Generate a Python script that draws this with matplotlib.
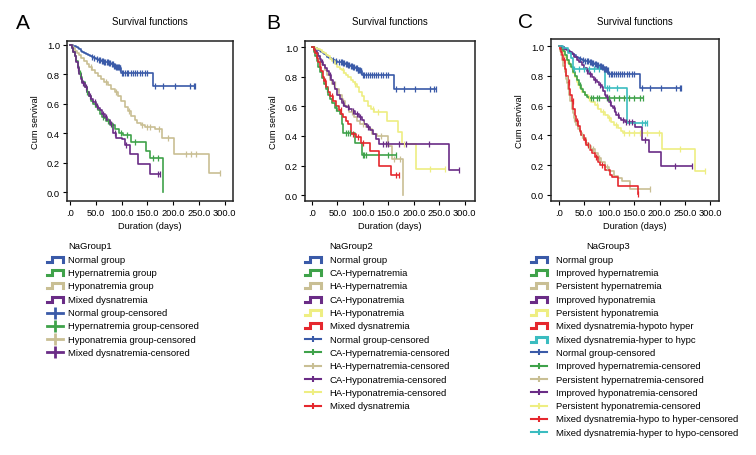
import numpy as np
import matplotlib
matplotlib.use('Agg')
import matplotlib.pyplot as plt
from matplotlib.lines import Line2D

plt.rcParams['font.family'] = ['Liberation Sans', 'DejaVu Sans']

# ---- colours (SPSS-like palette) ----
BLUE = '#3a5aa8'
GREEN = '#3fa24a'
TAN = '#c9bf94'
PURPLE = '#6a2c86'
YELLOW = '#eeee82'
RED = '#e5282e'
CYAN = '#3bbcc0'

x_ticks = [0, 50, 100, 150, 200, 250, 300]
x_tick_labels = ['.0', '50.0', '100.0', '150.0', '200.0', '250.0', '300.0']
y_ticks = [0.0, 0.2, 0.4, 0.6, 0.8, 1.0]
y_tick_labels = ['0.0', '0.2', '0.4', '0.6', '0.8', '1.0']

# ---- normal group (same in all three panels) ----
normal_t = [3, 6, 9, 12, 15, 18, 21, 24, 27, 30, 34, 38, 42, 46, 50, 55, 60, 65, 70, 75,
            80, 85, 90, 95, 98, 160]
normal_s = [0.997, 0.993, 0.988, 0.982, 0.975, 0.968, 0.960, 0.953, 0.946, 0.938, 0.930,
            0.923, 0.916, 0.910, 0.904, 0.898, 0.892, 0.886, 0.880, 0.874, 0.866, 0.858,
            0.850, 0.842, 0.81, 0.72]
normal_c = [42, 47, 52, 56, 58, 61, 63, 66, 68, 71, 73, 76, 78, 81, 83, 86, 88, 90, 91, 93,
            94, 96, 97, 100, 103, 106, 110, 113, 118, 122, 126, 130, 135, 140, 145, 150,
            165, 181, 203, 232, 240, 243]

# ---- panel A ----
a_hyper_t = [3, 6, 9, 12, 15, 18, 21, 24, 28, 32, 36, 41, 45, 50, 54, 58, 61, 66, 70, 78,
             87, 95, 103, 119, 148, 155, 180]
a_hyper_s = [0.98, 0.95, 0.92, 0.89, 0.85, 0.81, 0.78, 0.75, 0.71, 0.68, 0.65, 0.62, 0.60,
             0.575, 0.555, 0.53, 0.51, 0.50, 0.48, 0.455, 0.43, 0.40, 0.39, 0.34, 0.28,
             0.23, 0.0]
a_hyper_c = [20, 33, 48, 64, 74, 82, 99, 110, 125, 160, 170]

a_hypo_t = [3, 6, 10, 14, 18, 22, 27, 32, 37, 43, 49, 54, 60, 66, 73, 80, 87, 93, 99, 106,
            112, 119, 125, 129, 137, 145, 165, 178, 201, 269]
a_hypo_s = [0.99, 0.975, 0.96, 0.945, 0.93, 0.91, 0.89, 0.87, 0.85, 0.83, 0.81, 0.785,
            0.765, 0.745, 0.725, 0.70, 0.68, 0.655, 0.62, 0.58, 0.55, 0.515, 0.49, 0.47,
            0.455, 0.44, 0.43, 0.365, 0.26, 0.13]
a_hypo_c = [40, 70, 90, 115, 140, 150, 155, 172, 190, 225, 235, 245, 290]

a_mixed_t = [3, 6, 9, 12, 15, 18, 21, 24, 28, 32, 36, 41, 45, 50, 54, 58, 62, 67, 72, 77,
             83, 90, 100, 106, 116, 132, 155]
a_mixed_s = [0.98, 0.95, 0.92, 0.88, 0.84, 0.80, 0.77, 0.74, 0.71, 0.68, 0.655, 0.63,
             0.61, 0.585, 0.57, 0.555, 0.53, 0.51, 0.49, 0.465, 0.40, 0.365, 0.36, 0.32,
             0.26, 0.195, 0.126]
a_mixed_c = [16, 26, 30, 38, 48, 52, 64, 70, 80, 88, 108, 170, 175]

# ---- panel B ----
b_ca_hyper_t = [3, 6, 9, 12, 16, 20, 24, 28, 32, 36, 40, 45, 50, 55, 58, 61, 84, 98]
b_ca_hyper_s = [0.97, 0.94, 0.91, 0.87, 0.83, 0.79, 0.75, 0.72, 0.68, 0.65, 0.62, 0.59,
                0.57, 0.55, 0.483, 0.42, 0.35, 0.27]
b_ca_hyper_c = [30, 48, 66, 70, 75, 100, 103, 106, 150, 164]

b_ha_hyper_t = [4, 8, 12, 16, 20, 25, 30, 35, 40, 46, 52, 58, 64, 72, 82, 88, 95, 105, 112,
                118, 128, 150, 157, 179]
b_ha_hyper_s = [0.985, 0.965, 0.94, 0.91, 0.88, 0.85, 0.81, 0.78, 0.75, 0.715, 0.68, 0.64,
                0.60, 0.565, 0.53, 0.50, 0.48, 0.46, 0.45, 0.415, 0.40, 0.33, 0.244, 0.0]
b_ha_hyper_c = [45, 60, 78, 100, 135, 160, 172]

b_ca_hypo_t = [3, 6, 9, 12, 15, 18, 22, 26, 30, 34, 38, 42, 46, 50, 54, 58, 62, 66, 72, 78,
               85, 93, 98, 103, 108, 113, 119, 126, 132, 268]
b_ca_hypo_s = [0.99, 0.975, 0.96, 0.94, 0.92, 0.90, 0.88, 0.86, 0.84, 0.81, 0.78, 0.75,
               0.72, 0.68, 0.65, 0.625, 0.605, 0.595, 0.585, 0.57, 0.55, 0.528, 0.505,
               0.483, 0.46, 0.44, 0.415, 0.38, 0.345, 0.17]
b_ca_hypo_c = [20, 36, 44, 60, 70, 80, 88, 95, 110, 140, 145, 150, 170, 185, 230, 289]

b_ha_hypo_t = [5, 10, 15, 19, 24, 28, 32, 36, 40, 45, 50, 55, 58, 63, 67, 71, 76, 80, 84,
               89, 93, 98, 103, 110, 116, 122, 148, 168, 177, 204]
b_ha_hypo_s = [0.995, 0.99, 0.98, 0.97, 0.96, 0.95, 0.94, 0.92, 0.905, 0.89, 0.87, 0.855,
               0.845, 0.825, 0.81, 0.80, 0.78, 0.765, 0.754, 0.73, 0.70, 0.67, 0.64, 0.60,
               0.585, 0.56, 0.50, 0.43, 0.345, 0.176]
b_ha_hypo_c = [60, 85, 120, 130, 180, 232, 261]

b_mixed_t = [3, 6, 9, 12, 15, 18, 21, 24, 28, 32, 36, 42, 47, 52, 57, 61, 66, 71, 77, 87,
             97, 113, 132, 155]
b_mixed_s = [0.98, 0.96, 0.93, 0.90, 0.87, 0.84, 0.80, 0.77, 0.73, 0.70, 0.67, 0.64, 0.60,
             0.573, 0.55, 0.528, 0.50, 0.483, 0.415, 0.393, 0.35, 0.30, 0.20, 0.133]
b_mixed_c = [26, 40, 56, 80, 90, 100, 165, 171]

# ---- panel C ----
c_imp_hyper_t = [4, 8, 12, 16, 20, 24, 28, 32, 36, 40, 44, 48, 52, 56, 60]
c_imp_hyper_s = [0.985, 0.965, 0.94, 0.91, 0.88, 0.86, 0.83, 0.80, 0.77, 0.74, 0.71, 0.69,
                 0.675, 0.66, 0.65]
c_imp_hyper_c = [42, 64, 68, 75, 80, 95, 100, 110, 120, 130, 140, 150, 160, 166]

c_per_hyper_t = [2, 4, 6, 8, 11, 14, 16, 18, 20, 22, 25, 27, 29, 31, 34, 38, 41, 44, 48, 53,
                 58, 64, 71, 77, 84, 92, 100, 110, 118, 125, 141]
c_per_hyper_s = [0.97, 0.94, 0.91, 0.87, 0.83, 0.78, 0.75, 0.71, 0.67, 0.63, 0.58, 0.55,
                 0.52, 0.49, 0.47, 0.44, 0.42, 0.40, 0.38, 0.35, 0.33, 0.31, 0.28, 0.245,
                 0.22, 0.19, 0.16, 0.128, 0.11, 0.094, 0.038]
c_per_hyper_c = [15, 30, 45, 60, 67, 80, 95, 181]

c_imp_hypo_t = [5, 10, 15, 20, 25, 30, 35, 40, 45, 50, 55, 60, 65, 70, 75, 80, 85, 88, 91,
                94, 97, 100, 104, 107, 111, 114, 119, 124, 131, 151, 164, 179, 203]
c_imp_hypo_s = [0.995, 0.985, 0.975, 0.96, 0.945, 0.93, 0.91, 0.895, 0.875, 0.855, 0.835,
                0.81, 0.79, 0.775, 0.76, 0.74, 0.725, 0.70, 0.675, 0.66, 0.64, 0.627, 0.60,
                0.582, 0.56, 0.537, 0.52, 0.503, 0.49, 0.454, 0.37, 0.29, 0.195]
c_imp_hypo_c = [55, 62, 72, 82, 95, 102, 109, 118, 127, 133, 140, 145, 170, 230, 265]

c_per_hypo_t = [3, 6, 9, 12, 15, 18, 21, 25, 28, 31, 35, 38, 42, 46, 51, 57, 64, 71, 77, 84,
                91, 97, 104, 110, 117, 124, 127, 204, 270]
c_per_hypo_s = [0.985, 0.97, 0.95, 0.93, 0.91, 0.89, 0.87, 0.85, 0.82, 0.79, 0.76, 0.74,
                0.72, 0.694, 0.67, 0.65, 0.625, 0.604, 0.58, 0.56, 0.54, 0.515, 0.49, 0.47,
                0.45, 0.43, 0.416, 0.31, 0.16]
c_per_hypo_c = [60, 75, 88, 100, 113, 130, 140, 150, 160, 175, 198, 240, 291]

c_hypo_hyper_t = [2, 4, 6, 8, 11, 14, 17, 20, 22, 25, 28, 31, 34, 38, 41, 44, 49, 54, 61, 66,
                  71, 77, 81, 92, 101, 105, 117, 156]
c_hypo_hyper_s = [0.98, 0.96, 0.94, 0.91, 0.85, 0.80, 0.76, 0.71, 0.67, 0.63, 0.58, 0.53,
                  0.50, 0.46, 0.43, 0.40, 0.37, 0.335, 0.30, 0.28, 0.256, 0.222, 0.2, 0.166,
                  0.133, 0.12, 0.06, 0.005]
c_hypo_hyper_c = [10, 19, 27, 36, 52, 58, 74, 85, 156]

c_hyper_hypo_t = [8, 18, 24, 28, 91, 135]
c_hyper_hypo_s = [0.986, 0.953, 0.92, 0.85, 0.72, 0.483]
c_hyper_hypo_c = [30, 40, 50, 60, 70, 80, 95, 100, 115, 165, 170, 175]

# ---- legend labels ----
a_labels = ['Normal group', 'Hypernatremia group', 'Hyponatremia group', 'Mixed dysnatremia']
a_cens_labels = ['Normal group-censored', 'Hypernatremia group-censored',
                 'Hyponatremia group-censored', 'Mixed dysnatremia-censored']
b_labels = ['Normal group', 'CA-Hypernatremia', 'HA-Hypernatremia', 'CA-Hyponatremia',
            'HA-Hyponatremia', 'Mixed dysnatremia']
b_cens_labels = ['Normal group-censored', 'CA-Hypernatremia-censored',
                 'HA-Hypernatremia-censored', 'CA-Hyponatremia-censored',
                 'HA-Hyponatremia-censored', 'Mixed dysnatremia']
c_labels = ['Normal group', 'Improved hypernatremia', 'Persistent hypernatremia',
            'Improved hyponatremia', 'Persistent hyponatremia',
            'Mixed dysnatremia-hypoto hyper', 'Mixed dysnatremia-hyper to hypc']
c_cens_labels = ['Normal group-censored', 'Improved hypernatremia-censored',
                 'Persistent hypernatremia-censored', 'Improved hyponatremia-censored',
                 'Persistent hyponatremia-censored', 'Mixed dysnatremia-hypo to hyper-censored',
                 'Mixed dysnatremia-hyper to hypo-censored']

W, H = 756.0, 456.0
LEG_FS = 6.8
AX_FS = 6.3


def draw_km(ax, t, s, cens, color, mk=4.5):
    t = np.asarray(t, float)
    s = np.asarray(s, float)
    end = max(max(cens), t[-1])
    xs = np.concatenate([[0.0], t, [end]])
    ys = np.concatenate([[1.0], s, [s[-1]]])
    ax.step(xs, ys, where='post', color=color, lw=1.2, zorder=2)
    cens = np.asarray(cens, float)
    idx = np.searchsorted(xs, cens, side='right') - 1
    ax.plot(cens, ys[idx], ls='none', marker='|', ms=mk, mew=0.9, color=color, zorder=3)


def setup_axes(ax, xlim, ylim):
    ax.set_xlim(*xlim)
    ax.set_ylim(*ylim)
    ax.set_xticks(x_ticks)
    ax.set_xticklabels(x_tick_labels)
    ax.set_yticks(y_ticks)
    ax.set_yticklabels(y_tick_labels)
    ax.tick_params(direction='out', length=3, width=0.8, labelsize=AX_FS + 0.4, pad=2)
    for sp in ax.spines.values():
        sp.set_linewidth(1.1)
        sp.set_color('#222222')
    ax.set_xlabel('Duration (days)', fontsize=AX_FS + 0.4, labelpad=3)
    ax.set_ylabel('Cum servival', fontsize=AX_FS + 0.4, labelpad=5)


def draw_legend(fig, x_icon, x_text, y_title, x_title, title, labels, cens_labels, colors,
                dy=13.3, big_cross=False):
    fig.text(x_title / W, 1 - y_title / H, title, fontsize=LEG_FS, va='center', ha='left')
    y = y_title + dy
    iw = 16.0
    for lab, col in zip(labels, colors):
        xs = np.array([x_icon, x_icon + 5, x_icon + 5, x_icon + iw, x_icon + iw]) / W
        ys = 1 - np.array([y + 2.5, y + 2.5, y - 2.5, y - 2.5, y + 2.5]) / H
        fig.add_artist(Line2D(xs, ys, color=col, lw=2.2, solid_joinstyle='miter'))
        fig.text(x_text / W, 1 - y / H, lab, fontsize=LEG_FS, va='center', ha='left')
        y += dy
    for lab, col in zip(cens_labels, colors):
        fig.add_artist(Line2D([x_icon / W, (x_icon + iw) / W], [1 - y / H, 1 - y / H],
                              color=col, lw=2.0 if big_cross else 1.5))
        fig.add_artist(Line2D([(x_icon + iw / 2) / W], [1 - y / H], color=col, ls='none',
                              marker='|', ms=8 if big_cross else 4, mew=2.0 if big_cross else 1.5))
        fig.text(x_text / W, 1 - y / H, lab, fontsize=LEG_FS, va='center', ha='left')
        y += dy


fig = plt.figure(figsize=(7.56, 4.56), dpi=100)


def make_ax(left, right, top, bottom, letter, letter_x, letter_y):
    ax = fig.add_axes([left / W, 1 - bottom / H, (right - left) / W, (bottom - top) / H])
    fig.text((left + right) / 2 / W, 1 - 22 / H, 'Survival functions', fontsize=AX_FS + 0.6,
             ha='center', va='center')
    fig.text(letter_x / W, 1 - letter_y / H, letter, fontsize=15, ha='left', va='center')
    return ax


# Panel A
axA = make_ax(67, 233, 42, 202, 'A', 16, 24)
a_colors = [BLUE, GREEN, TAN, PURPLE]
draw_km(axA, normal_t, normal_s, normal_c, BLUE)
draw_km(axA, a_hypo_t, a_hypo_s, a_hypo_c, TAN)
draw_km(axA, a_hyper_t, a_hyper_s, a_hyper_c, GREEN)
draw_km(axA, a_mixed_t, a_mixed_s, a_mixed_c, PURPLE)
setup_axes(axA, (-6, 316), (-0.059, 1.025))

# Panel B
axB = make_ax(305, 475, 42, 202, 'B', 266, 24)
b_colors = [BLUE, GREEN, TAN, PURPLE, YELLOW, RED]
draw_km(axB, normal_t, normal_s, normal_c, BLUE)
draw_km(axB, b_ha_hypo_t, b_ha_hypo_s, b_ha_hypo_c, YELLOW)
draw_km(axB, b_ha_hyper_t, b_ha_hyper_s, b_ha_hyper_c, TAN)
draw_km(axB, b_ca_hypo_t, b_ca_hypo_s, b_ca_hypo_c, PURPLE)
draw_km(axB, b_ca_hyper_t, b_ca_hyper_s, b_ca_hyper_c, GREEN)
draw_km(axB, b_mixed_t, b_mixed_s, b_mixed_c, RED)
setup_axes(axB, (-13.8, 320), (-0.04, 1.043))

# Panel C
axC = make_ax(551, 719, 40, 202, 'C', 518, 22)
c_colors = [BLUE, GREEN, TAN, PURPLE, YELLOW, RED, CYAN]
draw_km(axC, normal_t, normal_s, normal_c, BLUE)
draw_km(axC, c_per_hypo_t, c_per_hypo_s, c_per_hypo_c, YELLOW)
draw_km(axC, c_imp_hyper_t, c_imp_hyper_s, c_imp_hyper_c, GREEN)
draw_km(axC, c_imp_hypo_t, c_imp_hypo_s, c_imp_hypo_c, PURPLE)
draw_km(axC, c_per_hyper_t, c_per_hyper_s, c_per_hyper_c, TAN)
draw_km(axC, c_hypo_hyper_t, c_hypo_hyper_s, c_hypo_hyper_c, RED)
draw_km(axC, c_hyper_hypo_t, c_hyper_hypo_s, c_hyper_hypo_c, CYAN)
setup_axes(axC, (-16, 318), (-0.042, 1.049))

# legends below each panel
draw_legend(fig, 47, 68, 247, 68, 'NaGroup1', a_labels, a_cens_labels, a_colors, big_cross=True)
draw_legend(fig, 305, 329.5, 247, 329.5, 'NaGroup2', b_labels, b_cens_labels, b_colors)
draw_legend(fig, 531, 556, 247, 586, 'NaGroup3', c_labels, c_cens_labels, c_colors)

fig.savefig('out.png', dpi=100)
